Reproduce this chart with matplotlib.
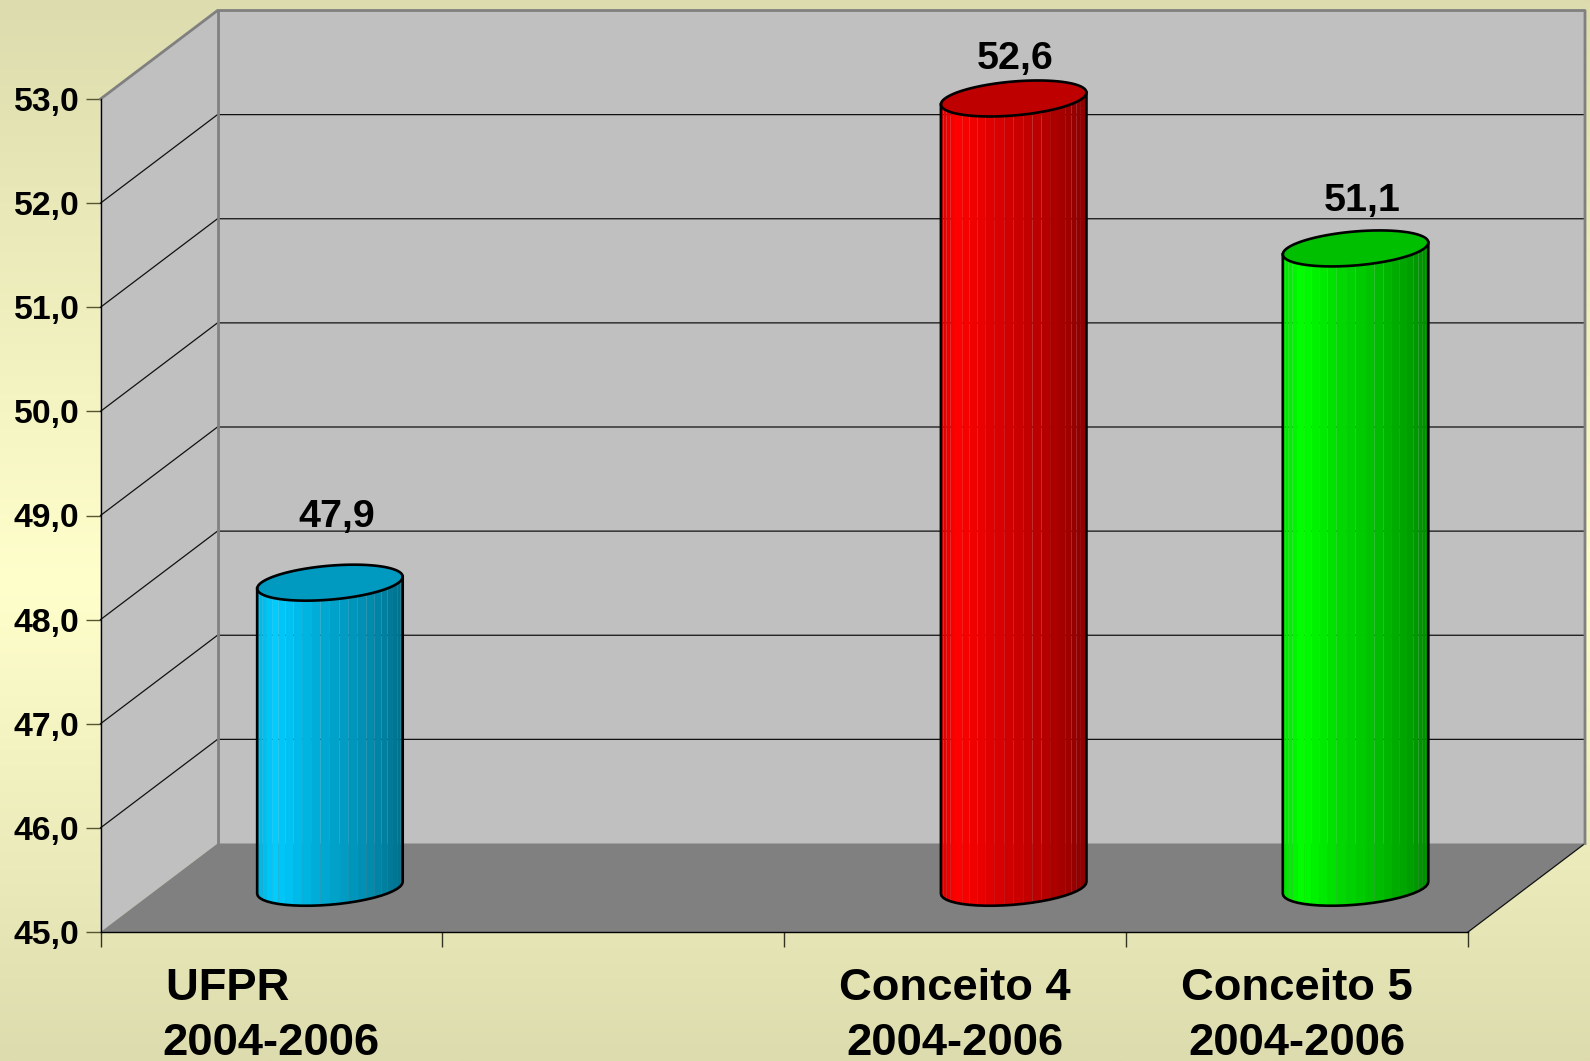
import numpy as np
from matplotlib import pyplot as plt
from matplotlib.colors import LinearSegmentedColormap, to_rgb

plt.rcParams['font.family'] = ['Liberation Sans', 'DejaVu Sans']
plt.rcParams['font.weight'] = 'bold'

# data
categories = ['UFPR       \n2004-2006', 'Conceito 4\n2004-2006', 'Conceito 5\n2004-2006']
slots = [0, 2, 3]
values = [47.93, 52.58, 51.14]
value_labels = ['47,9', '52,6', '51,1']
bar_colors = ['#00CCFF', '#FF0000', '#00FF00']
y_ticks = [45, 46, 47, 48, 49, 50, 51, 52, 53]
y_labels = ['45,0', '46,0', '47,0', '48,0', '49,0', '50,0', '51,0', '52,0', '53,0']
x_bounds = [0, 1, 2, 3, 4]

# label placement (hand placed in the original)
label_dx = [0.019, 0.005, 0.019]
label_dy = [0.96, 0.71, 0.78]

W, H = 1590, 1061
LEFT, RIGHT, TOP, BOTTOM = 100.5, 1468, 99, 932
SLOT_PX = (RIGHT - LEFT) / 4
UNIT_PX = (BOTTOM - TOP) / 8
DX = 117 / SLOT_PX     # depth of the box, x and y
DY = 88.5 / UNIT_PX

fig = plt.figure(figsize=(W / 100, H / 100), dpi=100)

bg = fig.add_axes([0, 0, 1, 1], zorder=-1)
cmap = LinearSegmentedColormap.from_list('bg', [(0, '#DDDCAE'), (0.55, '#FFFFCC'), (1, '#DDDCAE')])
bg.imshow(np.linspace(0, 1, 512).reshape(-1, 1), aspect='auto', cmap=cmap)
bg.axis('off')

ax = fig.add_axes([LEFT / W, (H - BOTTOM) / H, (RIGHT - LEFT) / W, (BOTTOM - TOP) / H])
ax.set_xlim(0, 4)
ax.set_ylim(45, 53)
ax.patch.set_visible(False)
for s in ['top', 'right']:
    ax.spines[s].set_visible(False)
for s in ['left', 'bottom']:
    ax.spines[s].set_linewidth(1.0)
    ax.spines[s].set_zorder(6)

# walls and floor
ax.fill([0, 0, DX, DX], [45, 53, 53 + DY, 45 + DY], color='#C0C0C0', lw=0, clip_on=False, zorder=1)
ax.fill([DX, DX, 4 + DX, 4 + DX], [45 + DY, 53 + DY, 53 + DY, 45 + DY], color='#C0C0C0', lw=0, clip_on=False, zorder=1)
ax.fill([0, 4, 4 + DX, DX], [45, 45, 45 + DY, 45 + DY], color='#808080', lw=0, clip_on=False, zorder=2)

for v in y_ticks[1:-1]:
    ax.plot([0, DX, 4 + DX], [v, v + DY, v + DY], color='#111111', lw=0.9, clip_on=False, zorder=3)
ax.plot([4, 4 + DX], [45, 45 + DY], color='#111111', lw=0.9, clip_on=False, zorder=3)
ax.plot([0, DX, 4 + DX, 4 + DX], [53, 53 + DY, 53 + DY, 45 + DY], color='#808080', lw=2, clip_on=False, zorder=3)
ax.plot([DX, DX], [45 + DY, 53 + DY], color='#808080', lw=2, clip_on=False, zorder=3)

# cylinders
a = 68.7 / SLOT_PX
bx = 24 / SLOT_PX
by = 18 / UNIT_PX
t0 = np.arctan2(bx, a)
shade_u = [0, 0.12, 0.4, 0.7, 1]
shade_f = [0.88, 1, 0.85, 0.72, 0.55]


def ellipse(cx, cy, t):
    return cx + a * np.cos(t) + bx * np.sin(t), cy + by * np.sin(t)


for slot, value, color in zip(slots, values, bar_colors):
    cx = slot + 0.5 + DX / 2
    base = 45 + DY / 2
    top = value + DY / 2
    rgb = np.array(to_rgb(color))

    ts = np.linspace(t0 + np.pi, t0 + 2 * np.pi, 25)
    for i in range(len(ts) - 1):
        seg = np.linspace(ts[i], ts[i + 1], 5)
        xb, yb = ellipse(cx, base, seg)
        xt, yt = ellipse(cx, top, seg)
        xm = (xb.mean() - (cx - np.hypot(a, bx))) / (2 * np.hypot(a, bx))
        f = np.interp(xm, shade_u, shade_f)
        ax.fill(np.r_[xb, xt[::-1]], np.r_[yb, yt[::-1]], color=tuple(rgb * f), lw=0, clip_on=False, zorder=4)

    full = np.linspace(0, 2 * np.pi, 120)
    xe, ye = ellipse(cx, top, full)
    ax.fill(xe, ye, facecolor=tuple(rgb * 0.75), edgecolor='black', lw=1.9, clip_on=False, zorder=5)

    xb, yb = ellipse(cx, base, ts)
    xt, yt = ellipse(cx, top, ts)
    ax.plot(np.r_[xt[0], xb, xt[-1]], np.r_[yt[0], yb, yt[-1]], color='black', lw=1.9, clip_on=False, zorder=5)

for slot, value, text, ox, oy in zip(slots, values, value_labels, label_dx, label_dy):
    ax.text(slot + 0.5 + DX / 2 + ox, value + oy, text, ha='center', va='baseline',
            fontsize=28.4, fontweight='bold', color='black', zorder=7, clip_on=False)

# axes ticks
ax.set_yticks(y_ticks)
ax.set_yticklabels(y_labels, fontsize=24.3, fontweight='bold')
ax.tick_params(axis='y', length=10.8, width=1.0, color='#555533', pad=4.3)
ax.set_xticks(x_bounds)
ax.set_xticklabels([])
ax.tick_params(axis='x', which='major', length=10.8, width=1.0, color='#333322')
ax.set_xticks([s + 0.5 for s in slots], minor=True)
ax.set_xticklabels(categories, minor=True, fontsize=32.7, fontweight='bold', ma='center', linespacing=1.44)
ax.tick_params(axis='x', which='minor', length=0, pad=26)

fig.savefig('out.png', dpi=100)
